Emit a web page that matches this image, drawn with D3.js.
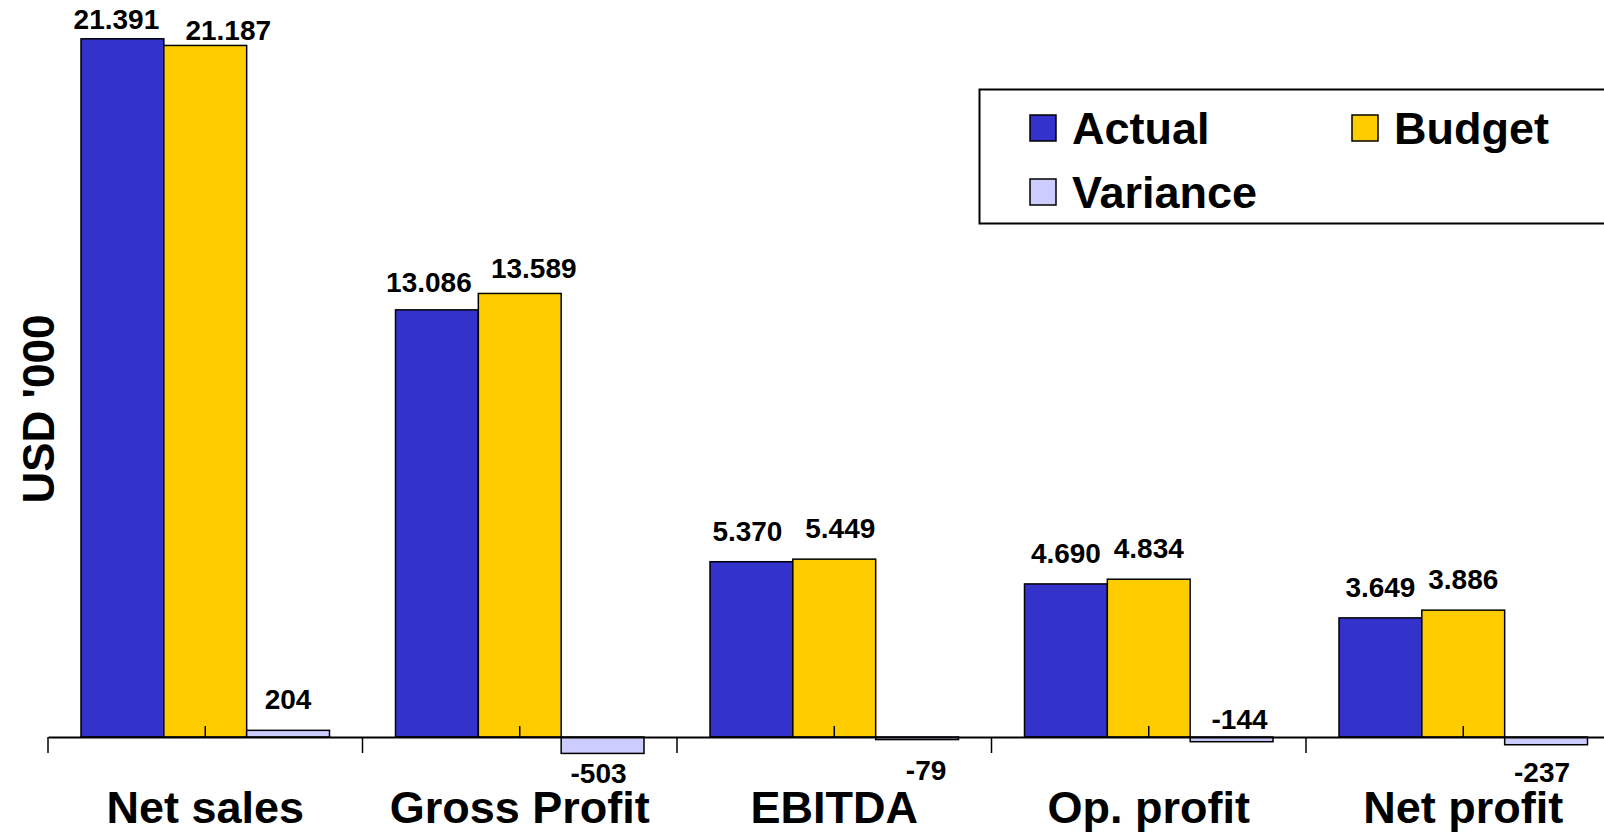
<!DOCTYPE html>
<html>
  <head>
    <meta charset="utf-8">
    <title></title>
    <script src="https://cdn.jsdelivr.net/npm/d3@7/dist/d3.min.js"></script>
    <style>
      body { margin: 0; background: #fff; }
      text { font-family: "Liberation Sans", Arial, sans-serif; font-weight: bold; fill: #000; }
    </style>
  </head>
  <body>
  <div id="chart"></div>
  <script>
    /* ------------------
      data (USD '000)
    ------------------ */

    var categories = ["Net sales", "Gross Profit", "EBITDA", "Op. profit", "Net profit"];
    var series = ["Actual", "Budget", "Variance"];
    var actual = [21391, 13086, 5370, 4690, 3649];
    var budget = [21187, 13589, 5449, 4834, 3886];
    var variance = [204, -503, -79, -144, -237];
    var colors = ["#3333cc", "#ffcc00", "#ccccff"];

    // hand placed labels in the original, [dx, dy] from the default spot
    var labelNudge = {
      "Net sales|Actual": [-6, 11],
      "Net sales|Budget": [23, 16],
      "Gross Profit|Actual": [-8, 3],
      "Gross Profit|Budget": [14, 6],
      "Gross Profit|Variance": [-4, -4],
      "EBITDA|Actual": [-4, 0],
      "EBITDA|Budget": [6, 0],
      "EBITDA|Variance": [9, 6],
      "Op. profit|Variance": [8, -47],
      "Net profit|Variance": [-4, 3]
    };

    var rows = [];
    categories.forEach(function(c, i) {
      [actual[i], budget[i], variance[i]].forEach(function(v, j) {
        rows.push({ cat: c, ser: series[j], value: v, color: colors[j] });
      });
    });

    /* ------------------
      scales
    ------------------ */

    var width = 1604, height = 832;
    var axisY = 737;
    var catW = 314.5;

    var x = d3.scaleBand().domain(categories).range([48, 48 + catW * categories.length]);
    var xs = d3.scaleBand().domain(series).range([33, catW - 33]);
    var y = d3.scaleLinear().domain([0, 22000]).range([axisY, axisY - 22000 * 0.03264]);

    var fmt = d3.formatLocale({ decimal: ",", thousands: ".", grouping: [3], currency: ["", ""], minus: "-" }).format(",d");

    var svg = d3.select('#chart').append('svg').attr('width', width).attr('height', height);

    /* ------------------
      bars
    ------------------ */

    svg.append('g').selectAll('rect').data(rows).enter().append('rect')
      .attr('x', function(d) { return x(d.cat) + xs(d.ser); })
      .attr('y', function(d) { return y(Math.max(0, d.value)); })
      .attr('width', xs.bandwidth())
      .attr('height', function(d) { return Math.abs(y(d.value) - y(0)); })
      .attr('fill', function(d) { return d.color; })
      .attr('stroke', '#000')
      .attr('stroke-width', 1.5);

    /* ------------------
      category axis
    ------------------ */

    var axis = d3.axisBottom(x).tickSizeInner(-11).tickSizeOuter(0);
    var gx = svg.append('g').attr('transform', 'translate(0,' + axisY + ')').call(axis);
    gx.select('.domain').attr('stroke', '#000').attr('stroke-width', 2);
    gx.selectAll('.tick line').attr('stroke', '#000').attr('stroke-width', 1.5);
    gx.selectAll('.tick text')
      .attr('y', 86).attr('dy', 0)
      .style('font-size', '45px')
      .style('font-family', '"Liberation Sans", Arial, sans-serif')
      .style('font-weight', 'bold')
      .attr('fill', '#000');

    // major ticks between the categories
    gx.selectAll('.major').data(categories).enter().append('line')
      .attr('class', 'major')
      .attr('x1', function(d) { return x(d); })
      .attr('x2', function(d) { return x(d); })
      .attr('y1', 0).attr('y2', 16)
      .attr('stroke', '#000').attr('stroke-width', 1.5);

    /* ------------------
      value labels
    ------------------ */

    svg.append('g').selectAll('text').data(rows).enter().append('text')
      .attr('text-anchor', 'middle')
      .style('font-size', '28px')
      .attr('x', function(d) {
        var n = labelNudge[d.cat + '|' + d.ser] || [0, 0];
        return x(d.cat) + xs(d.ser) + xs.bandwidth() / 2 + n[0];
      })
      .attr('y', function(d) {
        var n = labelNudge[d.cat + '|' + d.ser] || [0, 0];
        var base = d.value >= 0 ? y(d.value) - 21 : y(d.value) + 34;
        return base + n[1];
      })
      .text(function(d) { return fmt(d.value); });

    /* ------------------
      y title
    ------------------ */

    svg.append('text')
      .attr('transform', 'translate(54,409) rotate(-90)')
      .attr('text-anchor', 'middle')
      .style('font-size', '44px')
      .text("USD '000");

    /* ------------------
      legend
    ------------------ */

    var legend = svg.append('g');
    legend.append('rect')
      .attr('x', 979.5).attr('y', 89.5).attr('width', 700).attr('height', 134)
      .attr('fill', '#fff').attr('stroke', '#000').attr('stroke-width', 2);

    var legendPos = [[1030, 128], [1352, 128], [1030, 192]];
    var items = legend.selectAll('g.item').data(series).enter().append('g')
      .attr('class', 'item')
      .attr('transform', function(d, i) { return 'translate(' + legendPos[i][0] + ',' + legendPos[i][1] + ')'; });
    items.append('rect')
      .attr('x', 0).attr('y', -13).attr('width', 26).attr('height', 26)
      .attr('fill', function(d, i) { return colors[i]; })
      .attr('stroke', '#000').attr('stroke-width', 1.5);
    items.append('text')
      .attr('x', 42).attr('y', 16)
      .style('font-size', '45px')
      .text(function(d) { return d; });
  </script>
</body>
</html>
